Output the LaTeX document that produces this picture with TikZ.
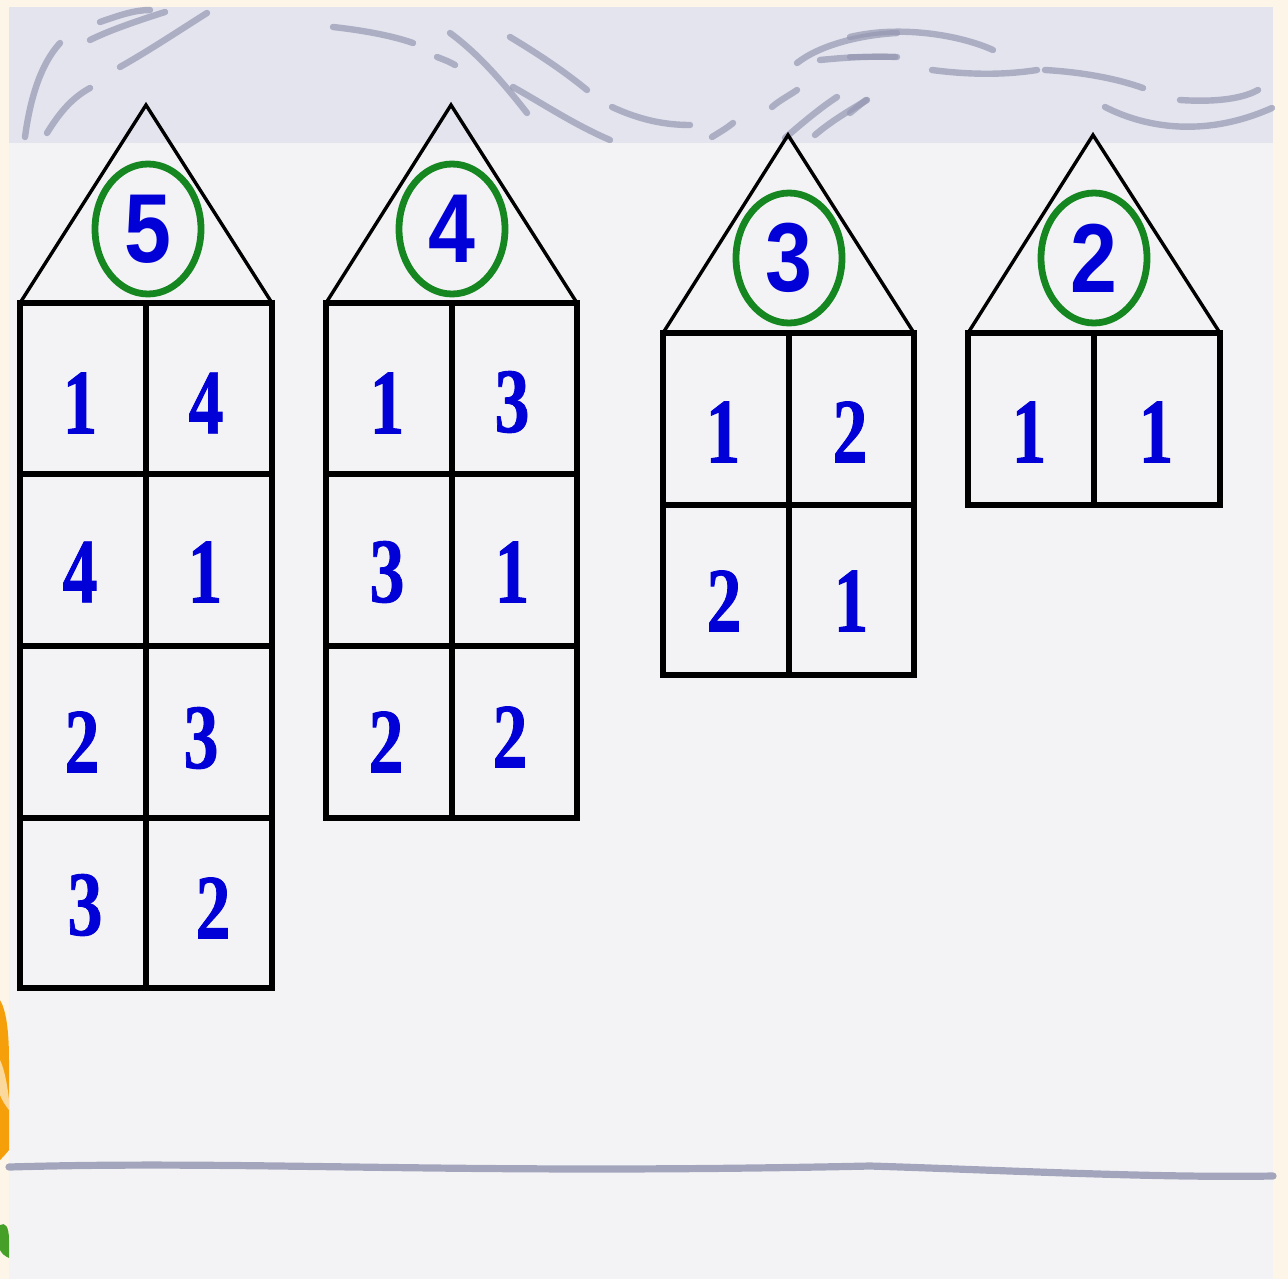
\documentclass[tikz,border=0pt]{standalone}
\usepackage{fontspec}
\usepackage{graphicx}
\newfontfamily\cellfont{Liberation Serif}[BoldFont={Liberation Serif Bold}, BoldFeatures={FakeBold=1}]
\newfontfamily\ringfont{Liberation Sans}
\definecolor{digblue}{RGB}{0,0,215}
\definecolor{ringgreen}{RGB}{22,135,32}
\definecolor{cream}{RGB}{252,245,232}
\definecolor{paper}{RGB}{243,243,246}
\definecolor{band}{RGB}{227,228,238}
\definecolor{swirlc}{RGB}{150,152,178}
\definecolor{petal}{RGB}{245,160,10}
\definecolor{leaf}{RGB}{70,160,40}
\newcommand\celldigit[1]{\scalebox{0.76}[1]{#1}}
\newcommand\ringdigit[1]{\scalebox{0.86}[1]{#1}}
\usetikzlibrary{shapes.geometric}
\tikzset{
  cell/.style={font=\cellfont\bfseries\fontsize{46}{46}\selectfont, text=digblue, inner sep=0pt},
  ring/.style={draw=ringgreen, line width=3.4pt, ellipse, minimum width=53pt, minimum height=65pt, inner sep=0pt,
     font=\ringfont\bfseries\fontsize{49}{49}\selectfont, text=digblue},
  wall/.style={draw=black, line width=2.6pt, line join=miter},
  roofline/.style={draw=black, line width=1.7pt, line join=miter},
  swirl/.style={draw=swirlc, line width=3.2pt, line cap=round, opacity=0.7},
}
\begin{document}
\begin{tikzpicture}[x=0.5pt, y=-0.5pt]
\useasboundingbox (0,0) rectangle (1288,1279);
% background
\fill[cream] (0,0) rectangle (1288,1279);
\fill[paper] (9,7) rectangle (1273,1279);
\fill[band] (9,7) rectangle (1273,143);
% left edge decoration
\fill[petal] (0,1000) .. controls (6,1010) and (9,1030) .. (9,1060) -- (9,1150) .. controls (5,1155) and (2,1158) .. (0,1160) -- cycle;
\fill[petal!40!white] (0,1060) .. controls (5,1070) and (8,1090) .. (9,1100) -- (9,1110) .. controls (5,1105) and (2,1100) .. (0,1095) -- cycle;
\fill[leaf] (0,1225) .. controls (5,1222) and (9,1226) .. (9,1240) -- (9,1258) .. controls (5,1256) and (2,1254) .. (0,1250) -- cycle;
% swirls top-left
\draw[swirl] (25,137) .. controls (30,100) and (40,65) .. (60,43);
\draw[swirl] (47,133) .. controls (60,112) and (72,98) .. (90,88);
\draw[swirl] (100,22) .. controls (120,15) and (135,10) .. (150,10);
\draw[swirl] (120,67) .. controls (150,50) and (180,30) .. (207,13);
\draw[swirl] (90,40) .. controls (110,30) and (140,20) .. (165,12);
\draw[swirl] (333,27) .. controls (360,30) and (390,35) .. (413,43);
\draw[swirl] (437,57) .. controls (445,60) and (450,62) .. (455,65);
% swirls middle
\draw[swirl] (450,33) .. controls (480,55) and (505,85) .. (527,113);
\draw[swirl] (510,37) .. controls (540,55) and (565,72) .. (587,90);
\draw[swirl] (513,87) .. controls (545,105) and (575,125) .. (610,140);
\draw[swirl] (612,107) .. controls (640,120) and (665,125) .. (690,125);
\draw[swirl] (712,137) .. controls (720,132) and (727,128) .. (733,123);
\draw[swirl] (772,107) .. controls (780,100) and (790,95) .. (797,90);
\draw[swirl] (797,63) .. controls (820,45) and (860,35) .. (897,33);
\draw[swirl] (820,60) .. controls (850,57) and (875,56) .. (897,57);
\draw[swirl] (785,138) .. controls (800,125) and (820,108) .. (837,97);
\draw[swirl] (815,135) .. controls (830,122) and (850,110) .. (867,100);
% swirls right
\draw[swirl] (850,37) .. controls (900,25) and (960,35) .. (993,50);
\draw[swirl] (850,57) -- (895,57);
\draw[swirl] (932,70) .. controls (970,75) and (1005,75) .. (1037,70);
\draw[swirl] (1045,70) .. controls (1080,72) and (1115,78) .. (1143,88);
\draw[swirl] (1180,100) .. controls (1210,102) and (1240,100) .. (1258,90);
\draw[swirl] (1105,107) .. controls (1140,125) and (1200,140) .. (1272,108);
\draw[swirl] (850,113) -- (866,100);
% bottom line
\draw[swirl, line width=3.6pt, opacity=0.85] (9,1167) .. controls (250,1160) and (450,1175) .. (870,1166) .. controls (1000,1170) and (1150,1178) .. (1273,1176);

% ===== House 5 =====
\coordinate (h5apex) at (146,105);
\draw[roofline] (20,303) -- (h5apex) -- (272,303);
\draw[wall] (20,303) rectangle (272,988);
\draw[wall] (146,303) -- (146,988);
\foreach \yy in {474,646,818} \draw[wall] (20,\yy) -- (272,\yy);
\node[ring] (r5) at (148,229) {\ringdigit{5}};
\node[cell] (h5a) at (80,403) {\celldigit{1}};
\node[cell] (h5b) at (206,403) {\celldigit{4}};
\node[cell] (h5c) at (80,572) {\celldigit{4}};
\node[cell] (h5d) at (205,572) {\celldigit{1}};
\node[cell] (h5e) at (82,742) {\celldigit{2}};
\node[cell] (h5f) at (201,738) {\celldigit{3}};
\node[cell] (h5g) at (85,905) {\celldigit{3}};
\node[cell] (h5h) at (213,908) {\celldigit{2}};

% ===== House 4 =====
\coordinate (h4apex) at (451,105);
\draw[roofline] (326,303) -- (h4apex) -- (577,303);
\draw[wall] (326,303) rectangle (577,818);
\draw[wall] (452,303) -- (452,818);
\foreach \yy in {474,646} \draw[wall] (326,\yy) -- (577,\yy);
\node[ring] (r4) at (452,229) {\ringdigit{4}};
\node[cell] (h4a) at (387,403) {\celldigit{1}};
\node[cell] (h4b) at (512,402) {\celldigit{3}};
\node[cell] (h4c) at (387,572) {\celldigit{3}};
\node[cell] (h4d) at (512,572) {\celldigit{1}};
\node[cell] (h4e) at (386,742) {\celldigit{2}};
\node[cell] (h4f) at (510,737) {\celldigit{2}};

% ===== House 3 =====
\coordinate (h3apex) at (788,135);
\draw[roofline] (663,333) -- (h3apex) -- (914,333);
\draw[wall] (663,333) rectangle (914,675);
\draw[wall] (789,333) -- (789,675);
\draw[wall] (663,505) -- (914,505);
\node[ring] (r3) at (789,258) {\ringdigit{3}};
\node[cell] (h3a) at (723,432) {\celldigit{1}};
\node[cell] (h3b) at (850,432) {\celldigit{2}};
\node[cell] (h3c) at (724,601) {\celldigit{2}};
\node[cell] (h3d) at (851,601) {\celldigit{1}};

% ===== House 2 =====
\coordinate (h2apex) at (1093,135);
\draw[roofline] (968,333) -- (h2apex) -- (1220,333);
\draw[wall] (968,333) rectangle (1220,505);
\draw[wall] (1094,333) -- (1094,505);
\node[ring] (r2) at (1094,258) {\ringdigit{2}};
\node[cell] (h2a) at (1029,432) {\celldigit{1}};
\node[cell] (h2b) at (1156,432) {\celldigit{1}};
\end{tikzpicture}
\end{document}
